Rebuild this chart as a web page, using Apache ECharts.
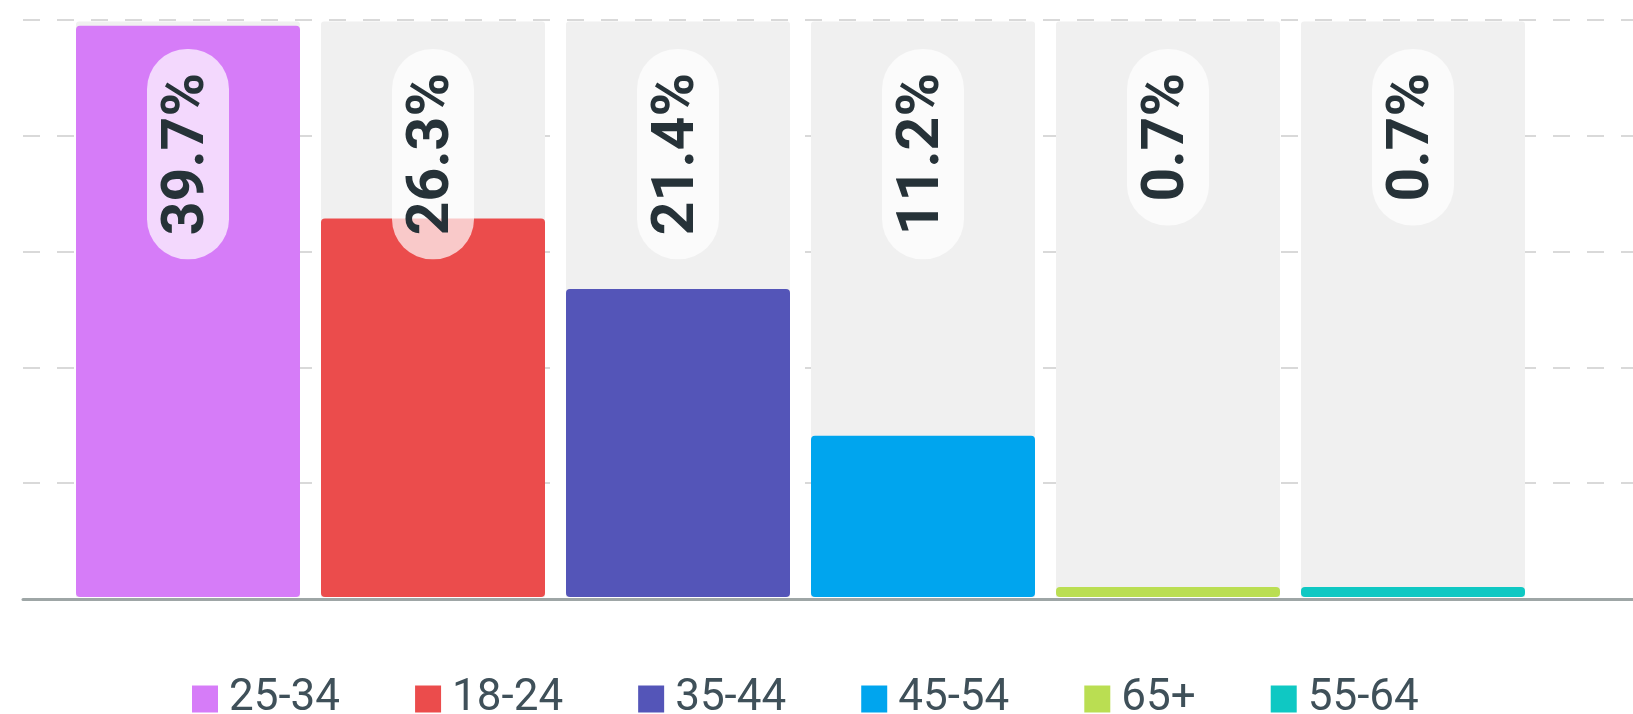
<!DOCTYPE html>
<html>
<head>
<meta charset="utf-8">
<script src="https://cdn.jsdelivr.net/npm/echarts@6/dist/echarts.min.js"></script>
<style>
    html, body { margin: 0; padding: 0; background: #fff; }
    #chart { width: 1633px; height: 714px; }
</style>
</head>
<body>
<div id="chart"></div>
<script>
const groups = ['25-34', '18-24', '35-44', '45-54', '65+', '55-64'];
const shares = [39.7, 26.3, 21.4, 11.2, 0.7, 0.7];
const colors = ['#d67cf8', '#eb4c4c', '#5455b8', '#00a5ee', '#bade52', '#0fc8c3'];
const yMax = 40;
const yInterval = 8;

const chart = echarts.init(document.getElementById('chart'));

// one series per age group so the legend gets its own colour for each
const groupSeries = groups.map((name, i) => ({
    name,
    type: 'bar',
    xAxisIndex: 1,
    yAxisIndex: 1,
    barWidth: 224,
    barGap: '-100%',
    z: 2,
    itemStyle: { color: colors[i], borderRadius: 4 },
    data: groups.map((g, j) => (j === i ? shares[i] : '-')),
}));

const option = {
    animation: false,
    legend: {
        data: groups,
        left: 187,
        top: 672,
        icon: 'rect',
        itemWidth: 26,
        itemHeight: 27,
        itemGap: 75,
        textStyle: {
            fontFamily: 'Roboto',
            fontSize: 44,
            color: '#3f5059',
            padding: [0, 0, 0, 6],
        },
    },
    grid: [
        { left: 23, right: 0, top: 20, bottom: 115 },
        { left: 65.5, width: 1470, top: 21.5, bottom: 117 },
    ],
    xAxis: [
        {
            gridIndex: 0,
            type: 'value',
            min: 0,
            max: 1,
            axisLine: { show: true, lineStyle: { color: '#9ea6a6', width: 3 } },
            axisTick: { show: false },
            axisLabel: { show: false },
            splitLine: { show: false },
        },
        {
            gridIndex: 1,
            type: 'category',
            data: groups,
            show: false,
        },
    ],
    yAxis: [
        {
            gridIndex: 0,
            type: 'value',
            min: 0,
            max: yMax,
            interval: yInterval,
            axisLine: { show: false },
            axisTick: { show: false },
            axisLabel: { show: false },
            splitLine: {
                lineStyle: { color: '#d9d9d9', width: 2, type: [17, 17] },
            },
        },
        {
            gridIndex: 1,
            type: 'value',
            min: 0,
            max: yMax,
            show: false,
        },
    ],
    series: [
        {
            name: 'bg',
            type: 'bar',
            xAxisIndex: 1,
            yAxisIndex: 1,
            barWidth: 224,
            barGap: '-100%',
            silent: true,
            z: 1,
            itemStyle: { color: '#f0f0f0', borderRadius: [3, 3, 0, 0] },
            data: groups.map(() => yMax),
        },
        ...groupSeries,
        {
            name: 'labels',
            type: 'bar',
            xAxisIndex: 1,
            yAxisIndex: 1,
            barWidth: 224,
            barGap: '-100%',
            silent: true,
            z: 3,
            itemStyle: { color: 'transparent' },
            label: {
                show: true,
                position: ['50%', 27.5],
                rotate: 90,
                align: 'right',
                verticalAlign: 'middle',
                formatter: (p) => `${shares[p.dataIndex]}%`,
                fontFamily: 'Roboto',
                fontWeight: 'bold',
                fontSize: 59,
                lineHeight: 60,
                color: '#263238',
                backgroundColor: 'rgba(255,255,255,0.7)',
                padding: [18, 24, 4, 24],
                borderRadius: 40,
            },
            data: groups.map(() => yMax),
        },
    ],
};

chart.setOption(option);
</script>
</body>
</html>
